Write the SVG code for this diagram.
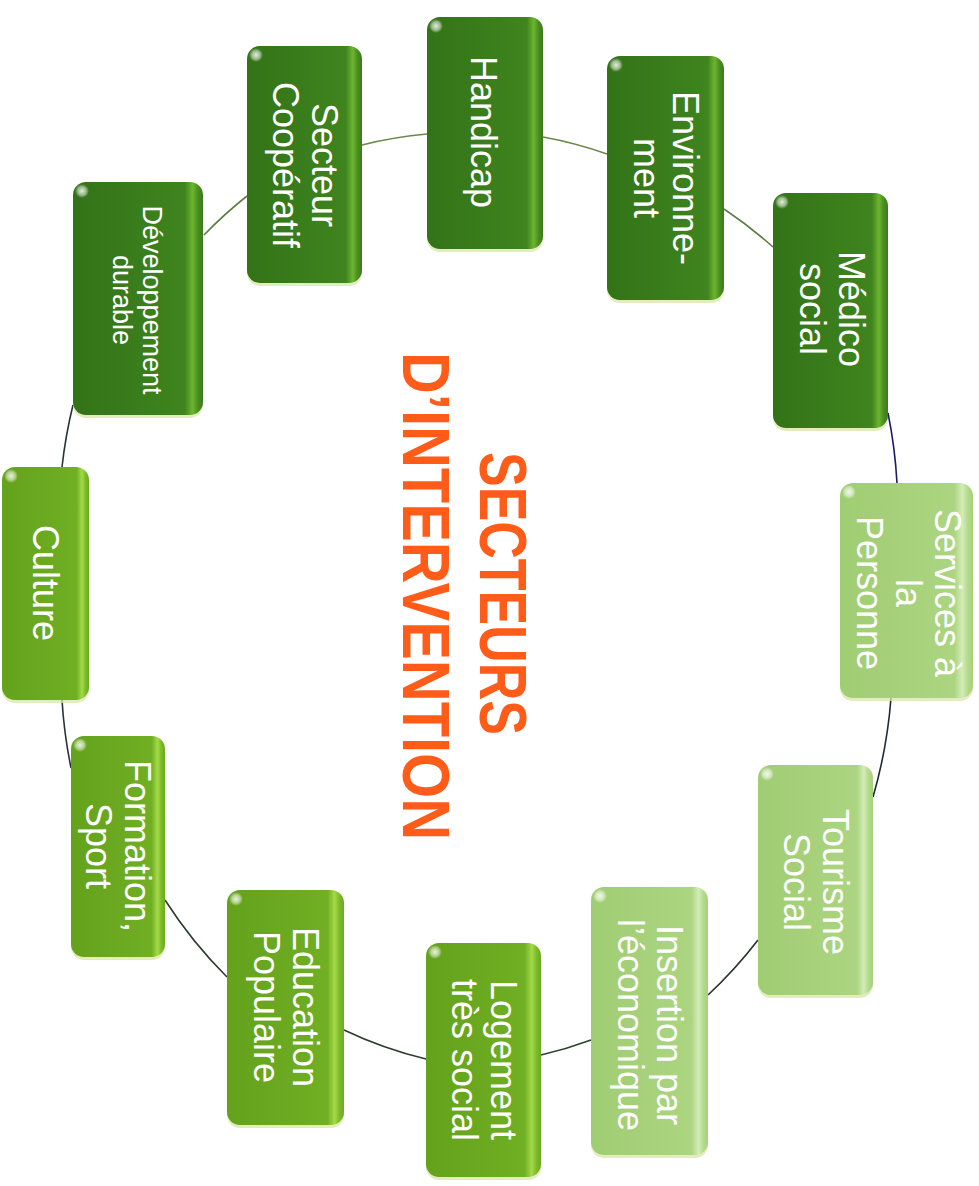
<svg xmlns="http://www.w3.org/2000/svg" width="979" height="1186" viewBox="0 0 979 1186">
<style>
.sh{fill:#d9e6a6;opacity:.75}
.hl{fill:url(#gHl)}
.dk .bd{fill:url(#gDk)}
.md .bd{fill:url(#gMd)}
.lt .bd{fill:url(#gLt)}
.lbl{font-family:"Liberation Sans",Arial,sans-serif;font-size:36px;fill:#fff;text-anchor:middle}
.lbl.sm{font-size:27px}
.ttl{font-family:"Liberation Sans",Arial,sans-serif;font-weight:bold;font-size:66px;fill:#ff5c1a}
.cn path{fill:none;stroke-width:1.6}
</style>
<defs>
<linearGradient id="gDk" x1="0" y1="0" x2="1" y2="0">
<stop offset="0" stop-color="#337318"/><stop offset=".5" stop-color="#3a7d1c"/><stop offset=".86" stop-color="#3f841e"/><stop offset=".92" stop-color="#6db52f"/><stop offset=".96" stop-color="#4b8f22"/><stop offset="1" stop-color="#3a7a1b"/>
</linearGradient>
<linearGradient id="gMd" x1="0" y1="0" x2="1" y2="0">
<stop offset="0" stop-color="#64a21c"/><stop offset=".5" stop-color="#6aa920"/><stop offset=".86" stop-color="#71b024"/><stop offset=".92" stop-color="#a4da48"/><stop offset=".96" stop-color="#7dbb2a"/><stop offset="1" stop-color="#6aa820"/>
</linearGradient>
<linearGradient id="gLt" x1="0" y1="0" x2="1" y2="0">
<stop offset="0" stop-color="#a0cd74"/><stop offset=".5" stop-color="#a7d17b"/><stop offset=".86" stop-color="#acd581"/><stop offset=".92" stop-color="#d4ecb8"/><stop offset=".96" stop-color="#b4da8c"/><stop offset="1" stop-color="#a6d07a"/>
</linearGradient>
<radialGradient id="gHl"><stop offset="0" stop-color="#fff" stop-opacity=".85"/><stop offset=".6" stop-color="#fff" stop-opacity=".5"/><stop offset="1" stop-color="#fff" stop-opacity="0"/></radialGradient>
</defs>
<rect width="979" height="1186" fill="#fff"/>

<g id="connectors" class="cn">
<path d="M204,235 A434,462 0 0 1 247,196" stroke="#5f7d45"/>
<path d="M362,145 A434,462 0 0 1 427,134" stroke="#6a8a4a"/>
<path d="M543,137 A434,462 0 0 1 607,154" stroke="#6a8a4a"/>
<path d="M724,209 A434,462 0 0 1 773,247" stroke="#5f7d45"/>
<path d="M888,413 A434,462 0 0 1 897,483" stroke="#1c1c66"/>
<path d="M891,698 A434,462 0 0 1 873,797" stroke="#1e2a3a"/>
<path d="M758,940 A434,462 0 0 1 708,995" stroke="#253525"/>
<path d="M591,1040 A434,462 0 0 1 541,1055" stroke="#2b452b"/>
<path d="M426,1059 A434,462 0 0 1 344,1030" stroke="#2b3d2b"/>
<path d="M227,977 A434,462 0 0 1 165,900" stroke="#2b3d2b"/>
<path d="M71,768 A434,462 0 0 1 62,700" stroke="#25353a"/>
<path d="M62,467 A434,462 0 0 1 73,405" stroke="#25353a"/>
</g>

<g id="title">
<text class="ttl" transform="translate(480,452) rotate(90)" textLength="283" lengthAdjust="spacingAndGlyphs">SECTEURS</text>
<text class="ttl" transform="translate(403,352) rotate(90)" textLength="488" lengthAdjust="spacingAndGlyphs">D’INTERVENTION</text>
</g>

<g id="n-developpement" class="dk">
<rect class="sh" x="73" y="185" width="130" height="233" rx="13"/>
<rect class="bd" x="73" y="182" width="130" height="233" rx="13"/>
<circle class="hl" cx="82" cy="191" r="7"/>
<text class="lbl sm" transform="translate(138,300) rotate(90)"><tspan x="0" y="-5.3">Développement</tspan><tspan x="0" y="24.7">durable</tspan></text>
</g>

<g id="n-secteur" class="dk">
<rect class="sh" x="247" y="49" width="115" height="237" rx="13"/>
<rect class="bd" x="247" y="46" width="115" height="237" rx="13"/>
<circle class="hl" cx="256" cy="55" r="7"/>
<text class="lbl" transform="translate(305,165) rotate(90)"><tspan x="0" y="-6.5">Secteur</tspan><tspan x="0" y="32.5">Coopératif</tspan></text>
</g>

<g id="n-handicap" class="dk">
<rect class="sh" x="427" y="20" width="116" height="232" rx="13"/>
<rect class="bd" x="427" y="17" width="116" height="232" rx="13"/>
<circle class="hl" cx="436" cy="26" r="7"/>
<text class="lbl" transform="translate(484,132) rotate(90)"><tspan x="0" y="13">Handicap</tspan></text>
</g>

<g id="n-environnement" class="dk">
<rect class="sh" x="607" y="59" width="117" height="244" rx="13"/>
<rect class="bd" x="607" y="56" width="117" height="244" rx="13"/>
<circle class="hl" cx="616" cy="65" r="7"/>
<text class="lbl" transform="translate(666,178) rotate(90)"><tspan x="0" y="-6.5">Environne-</tspan><tspan x="0" y="32.5">ment</tspan></text>
</g>

<g id="n-medico" class="dk">
<rect class="sh" x="773" y="196" width="115" height="235" rx="13"/>
<rect class="bd" x="773" y="193" width="115" height="235" rx="13"/>
<circle class="hl" cx="782" cy="202" r="7"/>
<text class="lbl" transform="translate(832,309) rotate(90)"><tspan x="0" y="-6.5">Médico</tspan><tspan x="0" y="32.5">social</tspan></text>
</g>

<g id="n-services" class="lt">
<rect class="sh" x="840" y="486" width="133" height="215" rx="13"/>
<rect class="bd" x="840" y="483" width="133" height="215" rx="13"/>
<circle class="hl" cx="849" cy="492" r="7"/>
<text class="lbl" transform="translate(909,593) rotate(90)"><tspan x="0" y="-26">Services à</tspan><tspan x="0" y="13">la</tspan><tspan x="0" y="52">Personne</tspan></text>
</g>

<g id="n-tourisme" class="lt">
<rect class="sh" x="758" y="768" width="115" height="230" rx="13"/>
<rect class="bd" x="758" y="765" width="115" height="230" rx="13"/>
<circle class="hl" cx="767" cy="774" r="7"/>
<text class="lbl" transform="translate(816,882) rotate(90)"><tspan x="0" y="-6.5">Tourisme</tspan><tspan x="0" y="32.5">Social</tspan></text>
</g>

<g id="n-insertion" class="lt">
<rect class="sh" x="591" y="890" width="117" height="268" rx="13"/>
<rect class="bd" x="591" y="887" width="117" height="268" rx="13"/>
<circle class="hl" cx="600" cy="896" r="7"/>
<text class="lbl" transform="translate(650,1025) rotate(90)"><tspan x="0" y="-6.5">Insertion par</tspan><tspan x="0" y="32.5">l’économique</tspan></text>
</g>

<g id="n-logement" class="md">
<rect class="sh" x="426" y="946" width="115" height="234" rx="13"/>
<rect class="bd" x="426" y="943" width="115" height="234" rx="13"/>
<circle class="hl" cx="435" cy="952" r="7"/>
<text class="lbl" transform="translate(484,1060) rotate(90)"><tspan x="0" y="-6.5">Logement</tspan><tspan x="0" y="32.5">très social</tspan></text>
</g>

<g id="n-education" class="md">
<rect class="sh" x="227" y="893" width="117" height="235" rx="13"/>
<rect class="bd" x="227" y="890" width="117" height="235" rx="13"/>
<circle class="hl" cx="236" cy="899" r="7"/>
<text class="lbl" transform="translate(286,1007) rotate(90)"><tspan x="0" y="-6.5">Education</tspan><tspan x="0" y="32.5">Populaire</tspan></text>
</g>

<g id="n-formation" class="md">
<rect class="sh" x="71" y="739" width="94" height="221" rx="13"/>
<rect class="bd" x="71" y="736" width="94" height="221" rx="13"/>
<circle class="hl" cx="80" cy="745" r="7"/>
<text class="lbl" transform="translate(118,846) rotate(90)"><tspan x="0" y="-6.5">Formation,</tspan><tspan x="0" y="32.5">Sport</tspan></text>
</g>

<g id="n-culture" class="md">
<rect class="sh" x="2" y="470" width="87" height="233" rx="13"/>
<rect class="bd" x="2" y="467" width="87" height="233" rx="13"/>
<circle class="hl" cx="11" cy="476" r="7"/>
<text class="lbl" transform="translate(46,583) rotate(90)"><tspan x="0" y="13">Culture</tspan></text>
</g>
</svg>
